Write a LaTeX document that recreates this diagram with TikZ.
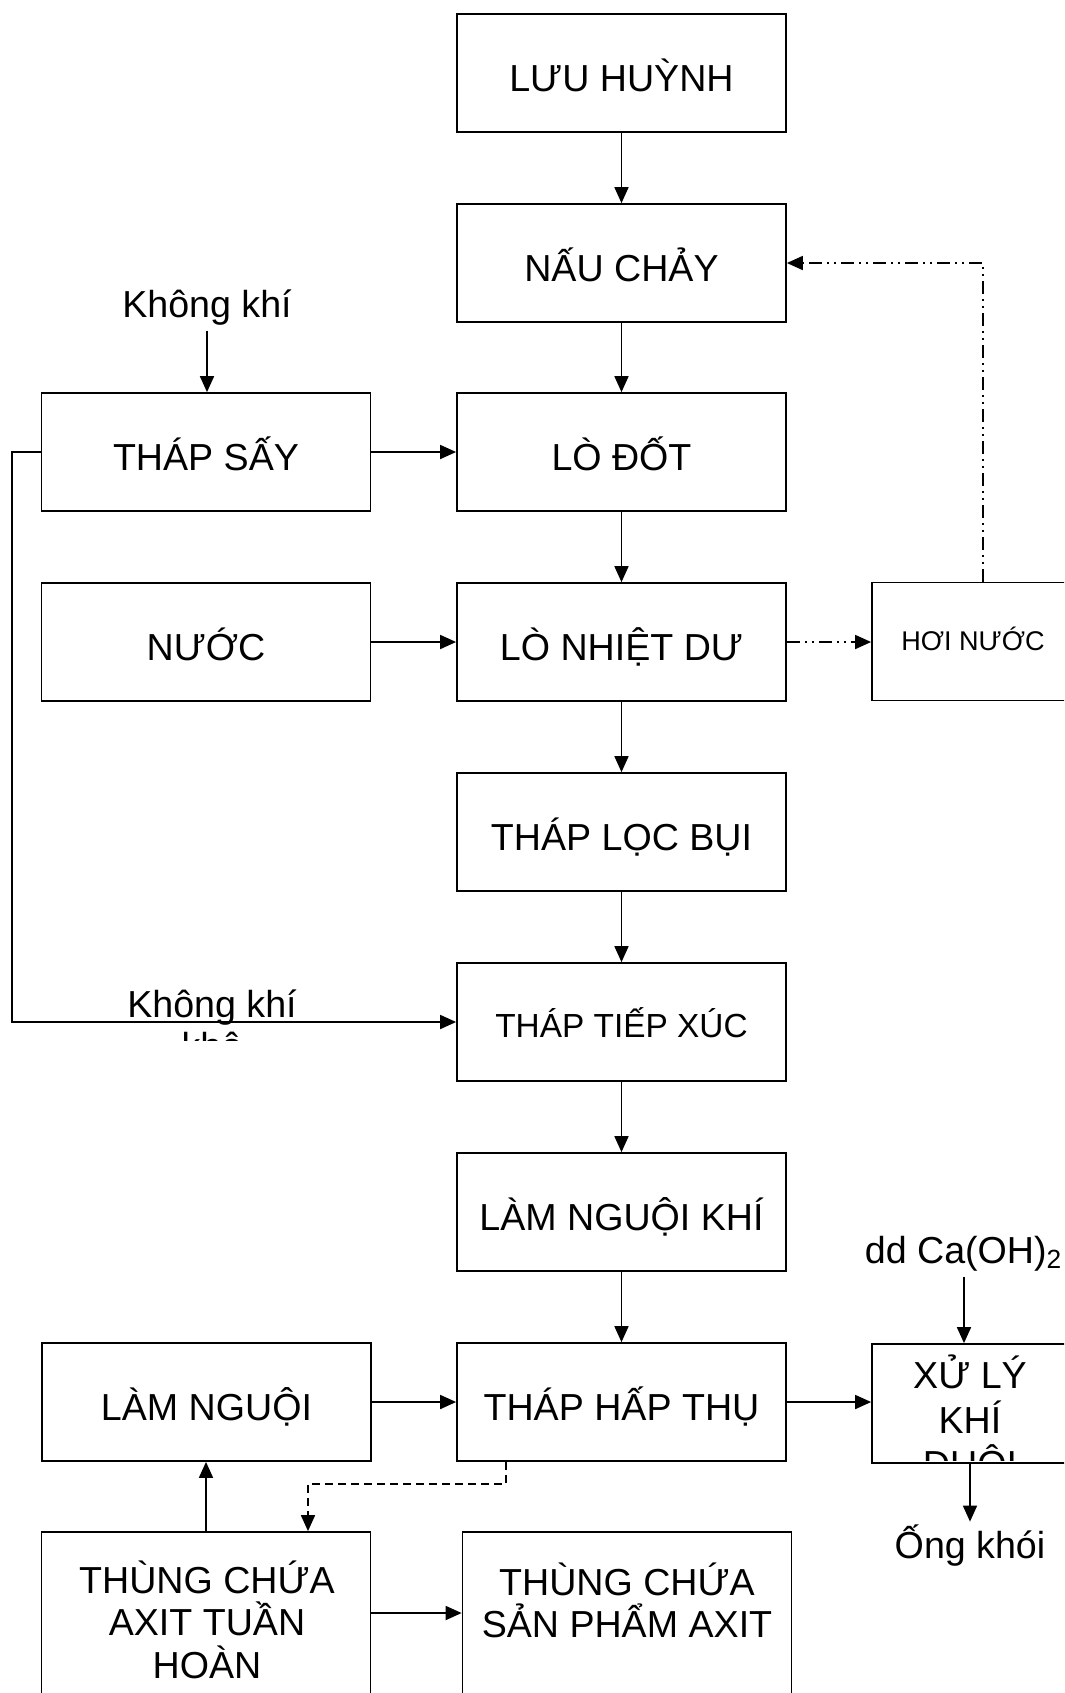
\documentclass[tikz,border=0pt]{standalone}
\usepackage{fontspec}
\setmainfont{Liberation Sans}
\usepackage{tikz}
\usetikzlibrary{arrows.meta,calc}
\newcommand{\chu}{\fontsize{10.7}{12.2}\selectfont}
\tikzset{
  khoi/.style={draw,line width=0.5pt,minimum width=3.29cm,minimum height=1.18cm,inner sep=0pt,text height=3.6mm,text depth=0pt,font=\chu},
  nho/.style={khoi,minimum width=2.02cm},
  nhan/.style={inner sep=0.5mm,font=\chu},
  mui/.style={-{Triangle[length=1.6mm,width=1.4mm]},line width=0.5pt},
  gach/.style={mui,dash pattern=on 0.8mm off 0.5mm},
  gachcham/.style={mui,dash pattern=on 1.3mm off 0.5mm on 0.2mm off 0.5mm on 0.2mm off 0.5mm}
}
\begin{document}
\begin{tikzpicture}
\useasboundingbox (0,0) rectangle (10.64,-16.93);
\clip (0,0) rectangle (10.64,-16.93);
% cot giua
\node[khoi] (luuhuynh) at (6.215,-0.73) {LƯU HUỲNH};
\node[khoi] (naucay) at (6.215,-2.63) {NẤU CHẢY};
\node[khoi] (lodot) at (6.215,-4.52) {LÒ ĐỐT};
\node[khoi] (lonhiet) at (6.215,-6.42) {LÒ NHIỆT DƯ};
\node[khoi] (locbui) at (6.215,-8.32) {THÁP LỌC BỤI};
\node[khoi,text height=3.0mm,font=\fontsize{9.5}{11}\selectfont] (tiepxuc) at (6.215,-10.22) {THÁP TIẾP XÚC};
\node[khoi] (nguoikhi) at (6.215,-12.12) {LÀM NGUỘI KHÍ};
\node[khoi] (hapthu) at (6.215,-14.02) {THÁP HẤP THỤ};
% cot trai
\node[khoi] (thapsay) at (2.06,-4.52) {THÁP SẤY};
\node[khoi] (nuoc) at (2.06,-6.42) {NƯỚC};
\node[khoi] (lamnguoi) at (2.065,-14.02) {LÀM NGUỘI};
\node[khoi,minimum height=2cm] (tuanhoan) at (2.06,-16.32) {};
\node[khoi,minimum height=2cm] (sanpham) at (6.27,-16.32) {};
\node[nhan,anchor=base] (tuanhoan-t) at (2.07,-15.93) {\parbox[t]{3.2cm}{\centering THÙNG CHỨA\\AXIT TUẦN\\HOÀN}};
\node[nhan,anchor=base] (sanpham-t) at (6.27,-15.95) {\parbox[t]{3.2cm}{\centering THÙNG CHỨA\\SẢN PHẨM AXIT}};
% cot phai
\node[nho,text height=1.7mm,font=\fontsize{7.7}{9}\selectfont] (hoinuoc) at (9.73,-6.415) {HƠI NƯỚC};
\node[nho,minimum height=1.19cm] (xuly) at (9.73,-14.035) {};
\begin{scope}
\clip (8.73,-13.44) rectangle (10.64,-14.60);
\node[nhan,anchor=base,font=\fontsize{10.7}{12.8}\selectfont] (xuly-t) at (9.70,-13.88) {\parbox[t]{2cm}{\centering XỬ LÝ\\KHÍ\\ĐUÔI}};
\end{scope}
% nhan
\node[nhan,anchor=base] (kkhi) at (2.07,-3.17) {Không khí};
\begin{scope}
\clip (1,-9.8) rectangle (3.6,-10.40);
\node[nhan,anchor=base] (kkhikho) at (2.12,-10.17) {\parbox[t]{2.5cm}{\centering Không khí\\khô}};
\end{scope}
\node[nhan,anchor=base] (caoh) at (9.64,-12.63) {dd Ca(OH)\textsubscript{2}};
\node[nhan,anchor=base,inner sep=0.2mm] (ongkhoi) at (9.70,-15.58) {Ống khói};
% mui ten
\foreach \a/\b in {luuhuynh/naucay,naucay/lodot,lodot/lonhiet,lonhiet/locbui,locbui/tiepxuc,tiepxuc/nguoikhi,nguoikhi/hapthu}
  \draw[mui] (\a) -- (\b);
\draw[mui] (kkhi.south) -- (kkhi.south |- thapsay.north);
\draw[mui] (thapsay) -- (lodot);
\draw[mui] (nuoc) -- (lonhiet);
\draw[mui] (lamnguoi) -- (hapthu);
\draw[mui] (hapthu.east) -- (hapthu.east -| xuly.west);
\draw[mui] (thapsay.west) -- ++(-0.29,0) |- (tiepxuc.west);
\draw[gachcham] (lonhiet.east) -- (lonhiet.east -| hoinuoc.west);
\draw[gachcham] ([xshift=1mm]hoinuoc.north) |- (naucay.east);
\draw[mui] (caoh.south) -- (caoh.south |- xuly.north);
\draw[mui] (ongkhoi.north |- xuly.south) -- (ongkhoi.north);
\draw[mui] (tuanhoan.north) -- (tuanhoan.north |- lamnguoi.south);
\draw[gach] ([xshift=-1.155cm]hapthu.south) -- ++(0,-0.22) -| ([xshift=1.02cm]tuanhoan.north);
\coordinate (ra) at ([yshift=1.9mm]tuanhoan.east);
\draw[mui] (ra) -- (ra -| sanpham.west);
\end{tikzpicture}
\end{document}
